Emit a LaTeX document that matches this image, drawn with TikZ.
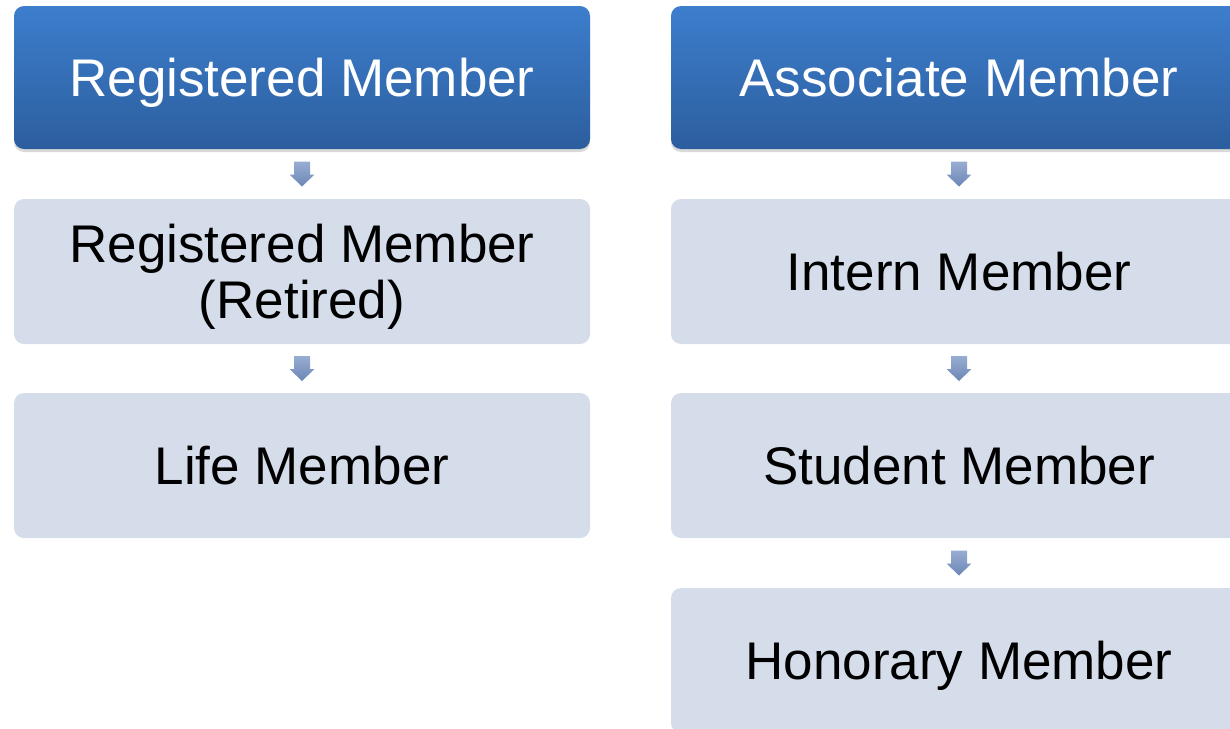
\documentclass[tikz,border=0pt]{standalone}
\usepackage{fontspec}
\setmainfont{Liberation Sans}
\usetikzlibrary{shadows,calc}
\definecolor{hdtop}{HTML}{3D7ECD}
\definecolor{hdbot}{HTML}{2C5E9E}
\definecolor{boxfill}{HTML}{D5DCEA}
\definecolor{arrtop}{HTML}{98ADD2}
\definecolor{arrbot}{HTML}{6C86B6}
\tikzset{
  boxtext/.style={font=\fontsize{53}{56}\selectfont, align=center, inner sep=0pt,
    text height=38pt, text depth=0pt},
  twolines/.style={text height=94pt},
  header/.style={boxtext, rounded corners=10pt, minimum width=576pt, minimum height=143pt,
    top color=hdtop, bottom color=hdbot, draw=none, text=white,
    drop shadow={shadow xshift=0pt, shadow yshift=-3pt, opacity=0.25, fill=black!60}},
  item/.style={boxtext, rounded corners=10pt, minimum width=576pt, minimum height=145pt,
    fill=boxfill, draw=none, text=black},
  downarrow/.style={top color=arrtop, bottom color=arrbot, draw=none}
}
\newcommand{\downarr}[1]{%
  \shade[downarrow] ($(#1)+(-8,-12.5)$) -- ($(#1)+(8,-12.5)$) -- ($(#1)+(8,0.5)$)
    -- ($(#1)+(12.5,0.5)$) -- ($(#1)+(0,12.5)$) -- ($(#1)+(-12.5,0.5)$)
    -- ($(#1)+(-8,0.5)$) -- cycle;}
\begin{document}
\begin{tikzpicture}[x=1pt,y=-1pt]
\useasboundingbox (0,0) rectangle (1230,728);
\begin{scope}
\clip (0,0) rectangle (1230,728);
\node[header] (h1) at (302,77.5) {Registered Member};
\node[item,twolines] (l2) at (302,271.5) {Registered Member\\(Retired)};
\node[item] (l3) at (302,465.5) {Life Member};
\node[header] (h2) at (959,77.5) {Associate Member};
\node[item] (r2) at (959,271.5) {Intern Member};
\node[item] (r3) at (959,465.5) {Student Member};
\node[item] (r4) at (959,660.5) {Honorary Member};
\coordinate (a1) at ($(h1.south)!0.5!(l2.north)$);
\coordinate (a2) at ($(l2.south)!0.5!(l3.north)$);
\coordinate (a3) at ($(h2.south)!0.5!(r2.north)$);
\coordinate (a4) at ($(r2.south)!0.5!(r3.north)$);
\coordinate (a5) at ($(r3.south)!0.5!(r4.north)$);
\downarr{a1}\downarr{a2}\downarr{a3}\downarr{a4}\downarr{a5}
\end{scope}
\end{tikzpicture}
\end{document}
